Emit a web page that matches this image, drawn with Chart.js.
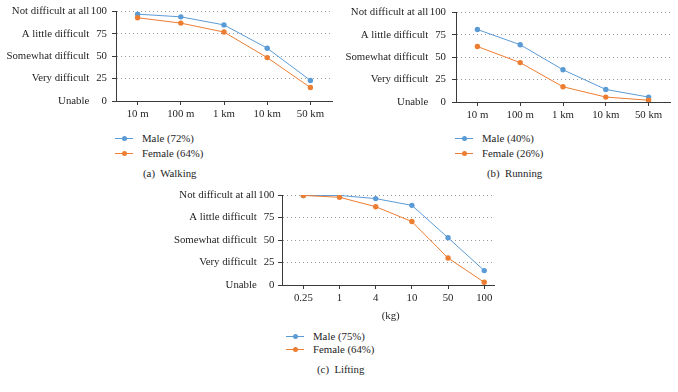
<!DOCTYPE html>
<html><head><meta charset="utf-8">
<script src="https://cdn.jsdelivr.net/npm/chart.js@4.4.0/dist/chart.umd.min.js"></script>
<style>
html,body{margin:0;padding:0;background:#fff;}
body{width:678px;height:392px;overflow:hidden;position:relative;font-family:'Liberation Serif','DejaVu Serif',serif;color:#1e1e1e;}
canvas{position:absolute;}
.lg{position:absolute;font-size:10.8px;line-height:13px;white-space:pre;height:13px;}
.mk{position:absolute;left:0;top:6px;height:1px;width:18px;}
.mk i{position:absolute;left:6.5px;top:-2px;width:5px;height:5px;border-radius:50%;}
.lg span.t{position:absolute;top:0;}
.cap{position:absolute;font-size:10.8px;line-height:13px;white-space:pre;}
</style></head><body>
<canvas id="ca" width="340" height="130" style="left:0;top:0"></canvas>
<canvas id="cb" width="338" height="130" style="left:340px;top:0"></canvas>
<canvas id="cc" width="340" height="140" style="left:160px;top:185px"></canvas>
<script>
// ---- data ----
const yTickValues = [0, 25, 50, 75, 100];
const yTickLabels = ['Unable', 'Very difficult', 'Somewhat difficult', 'A little difficult', 'Not difficult at all'];

const walkCats = ['10 m', '100 m', '1 km', '10 km', '50 km'];
const walkMale = [97, 94, 85, 59, 23];
const walkFemale = [93, 87, 77, 48.5, 15];
const walkNames = ['Male (72%)', 'Female (64%)'];
const walkCaption = '(a)  Walking';

const runCats = ['10 m', '100 m', '1 km', '10 km', '50 km'];
const runMale = [81, 64, 36, 14, 5.5];
const runFemale = [62, 44, 17, 5.5, 2];
const runNames = ['Male (40%)', 'Female (26%)'];
const runCaption = '(b)  Running';

const liftCats = ['0.25', '1', '4', '10', '50', '100'];
const liftMale = [99.5, 99.5, 96, 88.5, 52.5, 16];
const liftFemale = [99.5, 97.5, 87, 70.5, 30, 3];
const liftNames = ['Male (75%)', 'Female (64%)'];
const liftCaption = '(c)  Lifting';
const liftUnit = '(kg)';

// ---- style ----
const BLUE = '#5b9bd5', ORANGE = '#ed7d31';
const TEXT = '#1e1e1e', AXIS = '#3a3a3a', GRID = '#9a9a9a';
const FONT = "'Liberation Serif','DejaVu Serif',serif";
Chart.defaults.font.family = FONT;
Chart.defaults.font.size = 10.8;
Chart.defaults.color = TEXT;

function build(id, cats, male, female, names, g) {
  new Chart(document.getElementById(id), {
    type: 'line',
    data: {
      datasets: [
        {label: names[0], data: male.map((v, i) => ({x: i, y: v})), borderColor: BLUE, backgroundColor: BLUE, pointBackgroundColor: BLUE, order: 1},
        {label: names[1], data: female.map((v, i) => ({x: i, y: v})), borderColor: ORANGE, backgroundColor: ORANGE, pointBackgroundColor: ORANGE, order: 0}
      ]
    },
    options: {
      responsive: false, animation: false, devicePixelRatio: 1,
      layout: {padding: {left: 0, right: g.padR, top: g.padT, bottom: 0}},
      plugins: {legend: {display: false}, tooltip: {enabled: false}},
      elements: {line: {borderWidth: 1, tension: 0}, point: {radius: 2.7, borderWidth: 0, hoverRadius: 2.7}},
      scales: {
        x: {
          type: 'linear', min: g.xmin, max: g.xmax,
          afterBuildTicks: s => { s.ticks = cats.map((c, i) => ({value: i})); },
          ticks: {callback: v => cats[v], padding: 3, color: TEXT, autoSkip: false, maxRotation: 0},
          grid: {drawOnChartArea: false, drawTicks: true, tickLength: 4, tickColor: AXIS, tickWidth: 1},
          border: {color: AXIS, width: 1},
          title: g.xTitle ? {display: true, text: g.xTitle, color: TEXT, padding: {top: 0, bottom: g.titlePad}} : {display: false},
          afterFit: s => { s.height = g.xH; }
        },
        y: {
          type: 'linear', position: 'left', min: 0, max: 100, weight: 0,
          afterBuildTicks: s => { s.ticks = yTickValues.map(v => ({value: v})); },
          ticks: {padding: g.numPad, color: TEXT, callback: v => String(v)},
          grid: {color: GRID, lineWidth: 1, tickColor: AXIS, tickLength: 4, tickWidth: 1, tickBorderDash: []},
          border: {color: AXIS, width: 1, dash: [1, 3]},
          afterFit: s => { s.width = g.numW; }
        },
        yl: {
          type: 'linear', position: 'left', min: 0, max: 100, weight: 1,
          afterBuildTicks: s => { s.ticks = yTickValues.map(v => ({value: v})); },
          ticks: {padding: 1.5, color: TEXT, callback: v => yTickLabels[yTickValues.indexOf(v)]},
          grid: {display: false, drawTicks: false},
          border: {display: false},
          afterFit: s => { s.width = g.labW; }
        }
      }
    }
  });
}

build('ca', walkCats, walkMale, walkFemale, walkNames,
  {padR: 8, padT: 11, xH: 29, xmin: -0.5, xmax: 4.5, numPad: 5, numW: 25.2, labW: 90.8});
build('cb', runCats, runMale, runFemale, runNames,
  {padR: 8, padT: 11, xH: 28, xmin: -0.5, xmax: 4.5, numPad: 6, numW: 26.2, labW: 89.8});
build('cc', liftCats, liftMale, liftFemale, liftNames,
  {padR: 6, padT: 10, xH: 40, xmin: -0.59, xmax: 5.27, numPad: 3.5, numW: 23.7, labW: 98.3, xTitle: '\u2002' + liftUnit, titlePad: 2.8});

// ---- legends and captions (HTML text) ----
function legend(x, y0, dy, names) {
  [BLUE, ORANGE].forEach((c, i) => {
    const d = document.createElement('div');
    d.className = 'lg';
    d.style.left = x + 'px';
    d.style.top = (y0 + i * dy - 6.5) + 'px';
    d.innerHTML = '<span class="mk" style="background:' + c + '"><i style="background:' + c + '"></i></span>';
    const t = document.createElement('span');
    t.className = 't';
    t.style.left = '27px';
    t.textContent = names[i];
    d.appendChild(t);
    document.body.appendChild(d);
  });
}
function caption(x, y, text) {
  const d = document.createElement('div');
  d.className = 'cap';
  d.style.left = x + 'px';
  d.style.top = (y - 6.5) + 'px';
  d.textContent = text;
  document.body.appendChild(d);
}
legend(115, 138.5, 15.3, walkNames);
legend(455, 138, 15.3, runNames);
legend(286, 336, 13.3, liftNames);
caption(143, 173, walkCaption);
caption(487, 173, runCaption);
caption(317, 369.5, liftCaption);
</script>
</body></html>
